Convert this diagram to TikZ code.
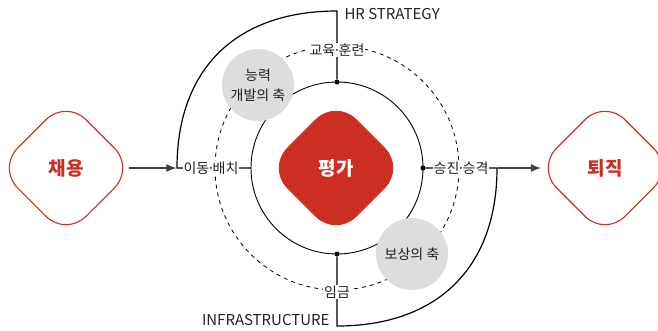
\documentclass[tikz,border=0pt]{standalone}
\usepackage{fontspec}
\setmainfont{Noto Sans CJK KR}
\usetikzlibrary{shapes.geometric, arrows.meta}
\definecolor{hrred}{HTML}{CD2E22}
\definecolor{axisgray}{HTML}{DCDDDD}
\definecolor{ink}{HTML}{222222}
\newcommand{\middot}{\kern-2.3pt·\kern-2.3pt}
\tikzset{
    every node/.style={font=\fontsize{14}{16}\selectfont, text=ink},
    stagebox/.style={diamond, aspect=1, minimum size=137pt, inner sep=0pt,
    	rounded corners=28pt, draw=hrred, line width=1.1pt, text=hrred,
    	font=\fontsize{19}{22}\selectfont\bfseries},
    corebox/.style={stagebox, fill=hrred, text=white},
    axisdisc/.style={circle, fill=axisgray, minimum size=72pt, inner sep=0pt,
    	align=center, font=\fontsize{14}{20}\selectfont},
    ringlabel/.style={fill=white, inner sep=1pt},
    ringdot/.style={circle, fill=black, minimum size=5pt, inner sep=0pt},
    flow/.style={-{Latex[length=10pt,width=8pt]}, line width=1.2pt, draw=black!75}
}
\begin{document}
\begin{tikzpicture}[x=1pt, y=-1pt]
	\useasboundingbox (0,0) rectangle (658,330);
	\coordinate (c) at (337,168);
	
	% rings
	\draw [line width=0.8pt, dash pattern=on 4pt off 4pt] (c) circle [radius=122pt];
	\draw [line width=0.9pt] (c) circle [radius=86pt];
	
	% spoke ends
	\coordinate (lefthook) at (177,168);
	\coordinate (righthook) at (497,168);
	\coordinate (topcorner) at (337,11);
	\coordinate (bottomcorner) at (337,326);
	\node (top) [ringdot] at (337,82) {};
	\node (bottom) [ringdot] at (337,254) {};
	\node (right) [ringdot] at (423,168) {};
	\coordinate (left) at (251,168);
	
	% HR strategy and infrastructure arcs
	\draw [line width=1.2pt] (top) -- (topcorner)
		.. controls (237,11) and (177,68) .. (lefthook) -- (left);
	\draw [line width=1.2pt] (bottom) -- (bottomcorner)
		.. controls (437,326) and (497,268) .. (righthook) -- (right);
	
	\node (edu) [ringlabel] at (337,50) {교육\middot 훈련};
	\node (wage) [ringlabel] at (337,292) {임금};
	\node (move) [ringlabel] at (211,168) {이동\middot 배치};
	\node (promo) [ringlabel] at (461,168) {승진\middot 승격};
	\node (strategy) [anchor=west, font=\fontsize{15}{17}\selectfont] at (341,14) {HR STRATEGY};
	\node (infra) [anchor=east, font=\fontsize{15}{17}\selectfont] at (333,320) {INFRASTRUCTURE};
	
	% axes
	\node (skill) [axisdisc] at (258,85) {능력\\개발의 축};
	\node (pay) [axisdisc] at (412,254) {보상의 축};
	
	% stages
	\node (hire) [stagebox] at (66,168) {채용};
	\node (eval) [corebox] at (336,168) {평가};
	\node (quit) [stagebox] at (605,168) {퇴직};
	
	\draw [flow, shorten <=-6pt, shorten >=6pt] (hire) -- (move);
	\draw [flow, shorten <=8pt, shorten >=-5pt] (promo) -- (quit);
\end{tikzpicture}
\end{document}
